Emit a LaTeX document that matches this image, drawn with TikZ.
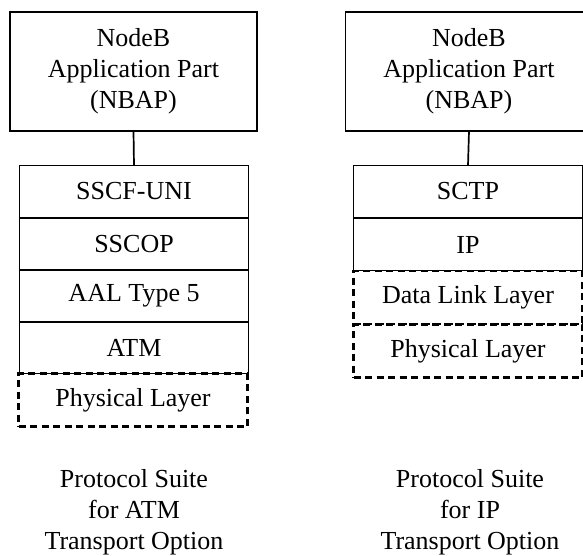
\documentclass[tikz,border=0pt]{standalone}
\usepackage{fontspec}
\setmainfont{Liberation Serif}
\begin{document}
\begin{tikzpicture}[x=1pt,y=-1pt,
  every node/.style={font=\fontsize{26}{31}\selectfont, inner sep=0pt, outer sep=0pt},
  appbox/.style={draw, line width=1.7pt, minimum width=247pt, minimum height=119pt, align=center},
  layer/.style={draw, line width=1.6pt, minimum width=229pt, minimum height=52pt},
  dlayer/.style={draw, line width=2.3pt, dash pattern=on 7pt off 4.5pt, minimum width=229pt, minimum height=53pt},
  caption/.style={align=center}]
\useasboundingbox (0,0) rectangle (583,555);
% left suite
\node[appbox] (lapp) at (133.5,71.5) {NodeB\\Application Part\\(NBAP)};
\node[dlayer] (lphy) at (133,400) {Physical Layer};
\node[layer] (lsscf) at (134,191.5) {SSCF-UNI};
\node[layer] (lsscop) at (134,244) {SSCOP};
\node[layer] (laal) at (134,296) {AAL Type 5};
\node[layer] (latm) at (134,347.5) {ATM};
\draw[line width=1.7pt] (lapp.south) -- (lsscf.north);
\node[caption] (lcap) at (134,512) {Protocol Suite\\for ATM\\Transport Option};
% right suite
\node[appbox] (rapp) at (469,71.5) {NodeB\\Application Part\\(NBAP)};
\node[dlayer] (rdl) at (468,297.5) {Data Link Layer};
\node[dlayer] (rphy) at (468,351) {Physical Layer};
\node[layer] (rsctp) at (468,191.5) {SCTP};
\node[layer] (rip) at (468,244.5) {IP};
\draw[line width=1.7pt] (rapp.south) -- (rsctp.north);
\node[caption] (rcap) at (470,512) {Protocol Suite\\for IP\\Transport Option};
\end{tikzpicture}
\end{document}
